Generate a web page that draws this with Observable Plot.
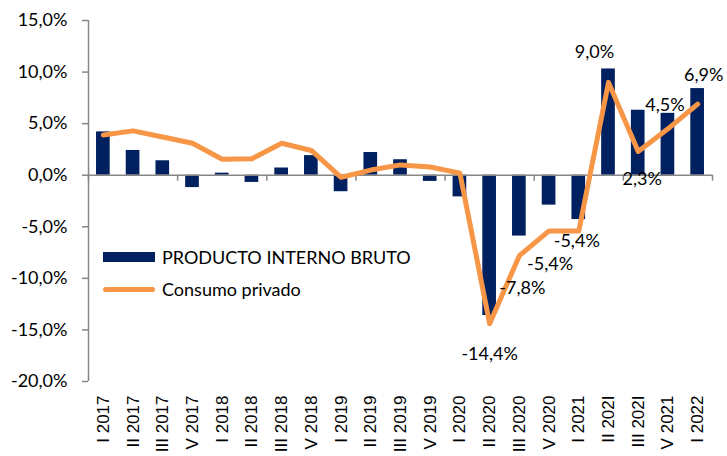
<!DOCTYPE html>
<html>
<head>
<meta charset="utf-8">
<script src="https://cdn.jsdelivr.net/npm/d3@7"></script>
<script src="https://cdn.jsdelivr.net/npm/@observablehq/plot@0.6"></script>
<style>
  html, body { margin: 0; padding: 0; background: #fff; }
  #wrap { position: relative; width: 727px; height: 456px; }
  .legend { position: absolute; left: 103px; font-family: Lato, "Open Sans", sans-serif; font-size: 18px; color: #000; display: flex; align-items: center; }
  .sw-bar { width: 52px; height: 10px; background: #002060; margin-right: 7px; }
  .sw-line { width: 52px; height: 5px; border-radius: 3px; background: #F79646; margin-right: 7px; }
</style>
</head>
<body>
<div id="wrap">
  <div id="chart"></div>
  <div class="legend" style="top:246px"><div class="sw-bar"></div><span>PRODUCTO INTERNO BRUTO</span></div>
  <div class="legend" style="top:278px"><div class="sw-line"></div><span>Consumo privado</span></div>
</div>
<script>
const categories = ["I 2017","II 2017","III 2017","V 2017","I 2018","II 2018","III 2018","V 2018","I 2019","II 2019","III 2019","V 2019","I 2020","II 2020","III 2020","V 2020","I 2021","II 202I","III 202I","V 2021","I 2022"];
const pib = [4.2, 2.4, 1.4, -1.2, 0.2, -0.7, 0.7, 1.9, -1.6, 2.2, 1.5, -0.6, -2.1, -13.6, -5.9, -2.9, -4.3, 10.3, 6.3, 6.0, 8.4];
const consumo = [3.9, 4.3, 3.7, 3.1, 1.55, 1.6, 3.1, 2.4, -0.2, 0.5, 1.0, 0.8, 0.2, -14.4, -7.8, -5.4, -5.4, 9.0, 2.3, 4.5, 6.9];
const yTicks = [-20, -15, -10, -5, 0, 5, 10, 15];
// indices of the consumo points that carry a data label
const labelled = [13, 14, 15, 16, 17, 18, 19, 20];
// label placement (pixel offsets from the point)
const labelOffsets = [[0, 30], [3, 33], [1, 33], [-2, 10], [-14, -30], [4, 28], [-3, -24], [6, -29]];

const rows = categories.map((c, i) => ({i, cat: c, pib: pib[i], consumo: consumo[i]}));
const fmt = v => v.toFixed(1).replace(".", ",") + "%";
const n = categories.length;
const groupBounds = d3.range(-0.5, n, 3); // tick marks every 3 categories
const barHalf = 0.23;
const navy = "#002060", orange = "#F79646", axisGray = "#868686";

const labelMarks = labelled.map((idx, k) => Plot.text([rows[idx]], {
  x: "i", y: "consumo", text: d => fmt(d.consumo),
  dx: labelOffsets[k][0], dy: labelOffsets[k][1],
  fontSize: 18, fill: "#000", textAnchor: "middle", lineAnchor: "middle",
  fontFamily: "Lato, 'Open Sans', sans-serif"
}));

const chart = Plot.plot({
  width: 727, height: 456,
  marginLeft: 88, marginRight: 15, marginTop: 20, marginBottom: 75,
  style: {fontFamily: "Lato, sans-serif", background: "#fff"},
  x: {type: "linear", domain: [-0.5, n - 0.5], label: null},
  y: {domain: [-20, 15], label: null},
  marks: [
    Plot.axisY({ticks: yTicks, tickFormat: fmt, tickSize: 6, tickPadding: 15, stroke: axisGray, strokeWidth: 1.5, fontSize: 18, fill: "#000", fontFamily: "Lato, sans-serif", label: null}),
    Plot.axisX({ticks: d3.range(n), tickFormat: i => categories[i], tickRotate: -90, tickSize: 0, tickPadding: 14, fontSize: 17, fill: "#000", fontFamily: "'Liberation Sans', Arial, sans-serif", label: null}),
    Plot.ruleX([-0.5], {stroke: axisGray, strokeWidth: 1.5}),
    Plot.rectY(rows, {x1: d => d.i - barHalf, x2: d => d.i + barHalf, y1: 0, y2: "pib", fill: navy}),
    Plot.ruleY([0], {stroke: axisGray, strokeWidth: 1.5}),
    Plot.ruleX(groupBounds, {x: d => d, y1: 0, y2: 0, insetBottom: -6, stroke: axisGray, strokeWidth: 1.5}),
    Plot.lineY(rows, {x: "i", y: "consumo", stroke: orange, strokeWidth: 5, strokeLinejoin: "round", strokeLinecap: "round"}),
    ...labelMarks
  ]
});
document.getElementById("chart").appendChild(chart);
</script>
</body>
</html>
